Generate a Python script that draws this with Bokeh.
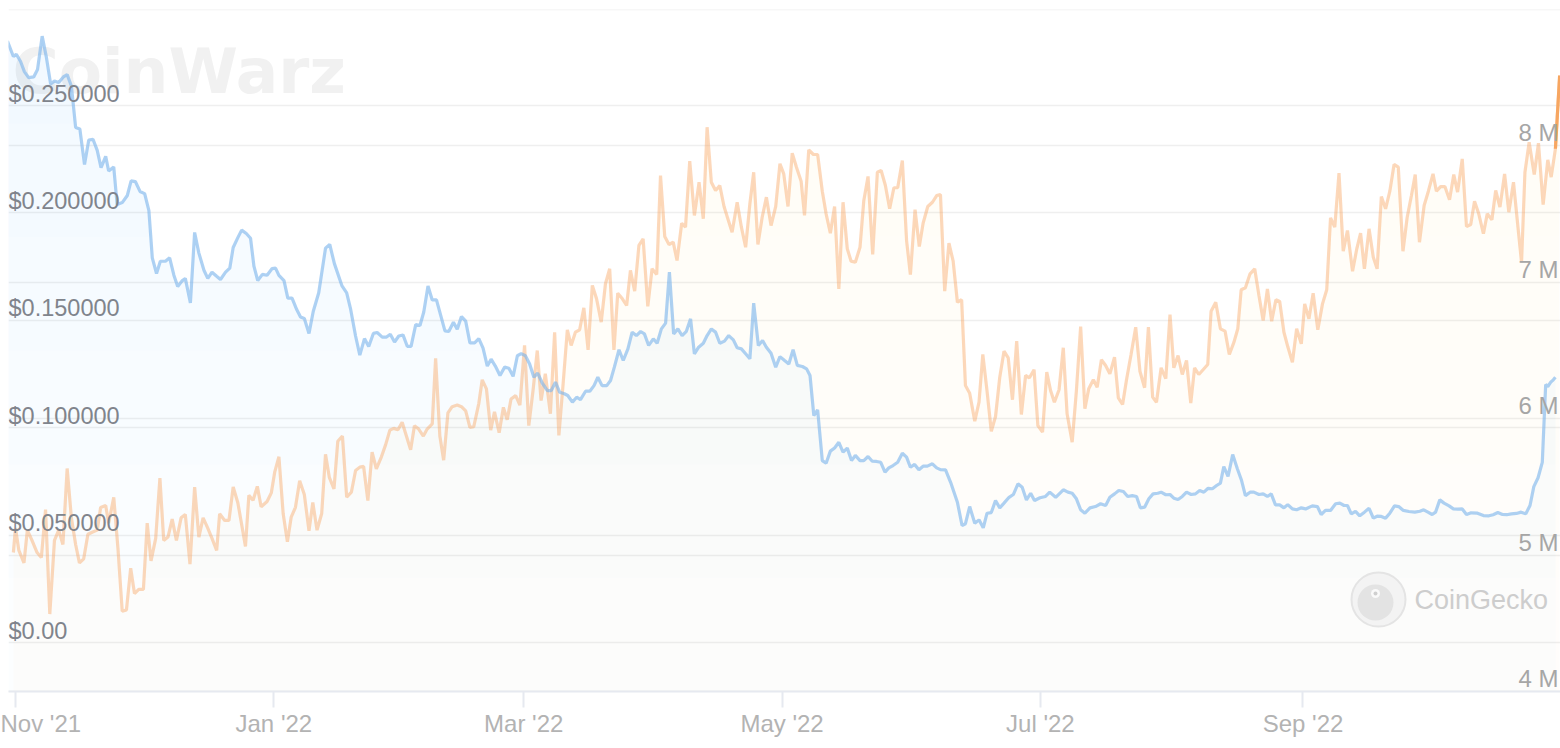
import numpy as np
import pandas as pd
from bokeh.plotting import figure
from bokeh.models import Range1d, FixedTicker, DatetimeTickFormatter
from bokeh.core.properties import value
from bokeh.embed import file_html
from bokeh.resources import INLINE

BASE = pd.Timestamp("2021-11-01")

# ---- price series (left axis, USD), x = days since 2021-11-01 ----
price_days = [
    -1.9, -0.5, 0.2, 1.2, 2.1, 3.1, 4.3, 5.2, 6.3, 7.3,
    8.3, 9.2, 10.2, 11.3, 12.2, 13.2, 14.2, 15.2, 16.3, 17.3,
    18.3, 19.3, 20.2, 21.3, 22.0, 23.2, 24.0, 25.2, 26.4, 27.3,
    28.3, 29.4, 30.5, 31.5, 32.3, 33.3, 34.2, 35.4, 36.4, 37.4,
    38.3, 39.4, 40.1, 41.3, 42.3, 43.3, 44.5, 45.4, 46.4, 47.5,
    48.4, 49.6, 50.6, 51.4, 52.5, 53.4, 54.5, 55.5, 56.3, 57.2,
    58.3, 59.4, 60.6, 61.4, 62.2, 63.4, 64.3, 65.3, 66.4, 67.3,
    68.2, 69.3, 70.3, 71.6, 73.2, 74.2, 75.3, 77.1, 78.2, 79.1,
    80.3, 81.3, 82.4, 83.4, 84.5, 85.4, 86.6, 87.6, 88.5, 89.5,
    90.5, 91.5, 92.5, 93.4, 94.5, 95.5, 96.4, 97.4, 98.4, 99.4,
    100.4, 101.4, 102.3, 103.4, 104.3, 105.3, 106.3, 107.3, 108.4, 109.4,
    110.4, 111.4, 112.3, 113.3, 114.4, 115.5, 116.5, 117.5, 118.5, 119.4,
    120.4, 121.4, 122.4, 123.3, 124.4, 125.6, 126.5, 127.5, 128.5, 129.6,
    130.4, 131.5, 132.5, 133.4, 134.6, 135.6, 136.6, 137.5, 138.5, 139.6,
    140.5, 141.4, 142.5, 143.5, 144.6, 145.6, 146.6, 147.6, 148.5, 149.5,
    150.6, 151.5, 152.5, 153.5, 154.4, 155.4, 156.4, 157.4, 158.4, 159.4,
    160.3, 161.3, 162.4, 163.3, 164.3, 165.3, 166.3, 167.4, 168.4, 169.5,
    170.4, 171.4, 172.4, 173.4, 174.3, 175.4, 176.4, 177.3, 178.4, 179.5,
    180.5, 181.6, 182.6, 183.6, 184.6, 185.8, 186.8, 187.6, 188.5, 189.4,
    190.5, 191.4, 192.4, 193.4, 194.4, 195.4, 196.4, 197.4, 198.3, 199.4,
    200.3, 201.3, 202.3, 203.3, 204.3, 205.3, 206.2, 207.2, 208.3, 209.4,
    210.4, 211.3, 212.3, 213.3, 214.3, 215.3, 216.5, 217.5, 218.4, 219.6,
    220.8, 222.4, 223.5, 224.3, 225.3, 226.5, 227.5, 228.5, 229.4, 230.4,
    231.4, 232.4, 233.4, 234.6, 235.6, 236.7, 237.7, 238.7, 239.7, 240.6,
    241.9, 243.2, 244.2, 245.6, 247.4, 248.5, 249.5, 250.5, 251.5, 252.5,
    253.7, 255.0, 256.2, 257.4, 258.4, 259.5, 260.5, 261.6, 262.6, 263.7,
    264.7, 265.6, 266.6, 267.6, 268.6, 269.7, 270.5, 271.6, 272.6, 273.5,
    274.5, 275.5, 276.5, 277.6, 278.6, 279.6, 280.6, 281.6, 282.6, 283.6,
    284.5, 285.3, 286.3, 287.4, 288.5, 289.5, 290.4, 291.5, 292.4, 293.6,
    294.6, 295.6, 296.5, 297.5, 298.5, 299.5, 300.4, 301.5, 302.5, 303.6,
    304.6, 306.2, 307.4, 308.3, 309.3, 310.5, 311.7, 312.7, 313.7, 314.5,
    315.4, 316.4, 317.4, 318.5, 319.6, 320.6, 321.5, 322.5, 323.5, 324.5,
    325.6, 326.6, 327.7, 329.0, 330.4, 331.6, 332.5, 333.5, 334.5, 335.3,
    336.3, 337.3, 338.5, 339.5, 340.6, 341.6, 342.6, 343.7, 345.2, 346.6,
    347.9, 348.9, 350.0, 351.1, 352.1, 353.2, 354.4, 355.5, 356.6, 357.6,
    358.5, 359.5, 360.5, 361.3, 361.8, 362.5, 363.1, 363.6,
]
price_usd = [
    .2800, .2728, .2739, .2705, .2658, .2630, .2633, .2668, .2823, .2724,
    .2600, .2614, .2607, .2633, .2644, .2591, .2398, .2391, .2225, .2339,
    .2343, .2291, .2211, .2263, .2195, .2214, .2039, .2048, .2081, .2149,
    .2146, .2100, .2090, .2011, .1791, .1718, .1775, .1775, .1791, .1710,
    .1657, .1685, .1695, .1581, .1909, .1813, .1733, .1695, .1724, .1705,
    .1690, .1724, .1743, .1839, .1885, .1920, .1904, .1882, .1752, .1685,
    .1714, .1710, .1741, .1743, .1709, .1685, .1603, .1603, .1550, .1515,
    .1508, .1439, .1541, .1628, .1836, .1853, .1764, .1660, .1628, .1555,
    .1427, .1338, .1415, .1378, .1439, .1443, .1422, .1422, .1435, .1399,
    .1427, .1432, .1379, .1379, .1480, .1476, .1539, .1660, .1595, .1595,
    .1523, .1451, .1448, .1491, .1459, .1518, .1496, .1395, .1395, .1415,
    .1371, .1287, .1319, .1287, .1243, .1282, .1277, .1239, .1335, .1345,
    .1335, .1297, .1235, .1254, .1207, .1173, .1173, .1212, .1165, .1158,
    .1150, .1119, .1142, .1131, .1170, .1170, .1196, .1235, .1196, .1196,
    .1220, .1282, .1363, .1313, .1367, .1445, .1429, .1448, .1437, .1383,
    .1414, .1393, .1460, .1487, .1724, .1437, .1460, .1429, .1449, .1507,
    .1344, .1375, .1393, .1429, .1460, .1445, .1393, .1403, .1429, .1409,
    .1372, .1367, .1344, .1321, .1580, .1383, .1406, .1375, .1347, .1282,
    .1331, .1313, .1297, .1363, .1290, .1285, .1274, .1243, .1057, .1083,
    .0847, .0835, .0891, .0906, .0932, .0886, .0905, .0847, .0871, .0847,
    .0847, .0866, .0844, .0843, .0839, .0793, .0813, .0824, .0839, .0881,
    .0863, .0816, .0829, .0804, .0821, .0821, .0832, .0813, .0805, .0804,
    .0746, .0653, .0545, .0553, .0633, .0555, .0571, .0534, .0602, .0605,
    .0661, .0627, .0649, .0676, .0689, .0739, .0723, .0664, .0695, .0661,
    .0674, .0680, .0700, .0676, .0711, .0700, .0695, .0669, .0618, .0602,
    .0627, .0633, .0646, .0638, .0676, .0692, .0708, .0703, .0680, .0684,
    .0680, .0627, .0630, .0669, .0692, .0695, .0700, .0688, .0689, .0672,
    .0666, .0680, .0700, .0689, .0692, .0708, .0700, .0718, .0716, .0731,
    .0742, .0819, .0773, .0875, .0809, .0754, .0684, .0700, .0700, .0689,
    .0692, .0680, .0692, .0641, .0641, .0627, .0642, .0622, .0618, .0627,
    .0622, .0636, .0633, .0596, .0615, .0615, .0646, .0649, .0638, .0638,
    .0599, .0611, .0590, .0607, .0625, .0579, .0588, .0587, .0579, .0602,
    .0636, .0633, .0615, .0610, .0607, .0611, .0618, .0607, .0596, .0607,
    .0664, .0649, .0636, .0622, .0621, .0622, .0596, .0604, .0602, .0591,
    .0590, .0595, .0605, .0596, .0595, .0599, .0601, .0607, .0599, .0638,
    .0726, .0767, .0839, .1201, .1192, .1212, .1223, .1235,
]

# ---- second series (right axis, millions), x = days since 2021-11-01 ----
hash_days = [
    -0.5, 0.0, 0.8, 2.0, 2.8, 3.9, 5.1, 6.1, 7.1, 8.1,
    9.2, 10.2, 11.2, 12.2, 13.2, 14.2, 15.1, 16.1, 17.1, 18.1,
    19.3, 20.1, 21.3, 22.0, 23.2, 24.2, 25.2, 26.2, 27.2, 28.1,
    29.1, 30.2, 31.1, 32.0, 33.1, 34.1, 35.0, 36.0, 37.0, 38.0,
    39.1, 40.1, 41.2, 42.3, 43.3, 44.3, 45.4, 46.4, 47.5, 48.2,
    49.4, 50.4, 51.4, 52.5, 53.3, 54.3, 55.1, 56.1, 57.1, 58.0,
    59.4, 60.4, 61.2, 62.2, 63.2, 64.2, 65.1, 66.1, 67.1, 68.2,
    69.3, 70.2, 71.2, 72.3, 73.2, 74.1, 75.2, 76.1, 77.2, 78.2,
    79.3, 80.3, 81.3, 82.2, 83.2, 84.2, 85.2, 86.4, 87.4, 88.4,
    89.3, 90.3, 91.3, 92.3, 93.3, 94.2, 95.2, 96.3, 97.2, 98.4,
    99.2, 100.2, 101.1, 102.1, 103.1, 104.3, 105.3, 106.3, 107.3, 108.2,
    109.4, 110.2, 111.2, 112.2, 113.1, 114.2, 115.2, 116.1, 117.0, 118.1,
    119.1, 120.2, 121.2, 122.2, 123.2, 124.1, 125.1, 126.3, 127.3, 128.3,
    129.3, 130.3, 131.2, 132.2, 133.2, 134.2, 135.2, 136.2, 137.2, 138.3,
    139.3, 140.3, 141.3, 142.2, 143.3, 144.3, 145.2, 146.2, 147.2, 148.2,
    149.3, 150.3, 151.4, 152.3, 153.3, 154.3, 155.3, 156.2, 157.3, 158.2,
    159.2, 160.3, 161.4, 162.4, 163.3, 164.3, 165.3, 166.3, 167.3, 168.2,
    169.2, 170.4, 171.4, 172.4, 173.4, 174.3, 175.3, 176.3, 177.3, 178.4,
    179.5, 180.5, 181.4, 182.4, 183.4, 184.4, 185.5, 186.3, 187.3, 188.4,
    189.4, 190.5, 191.4, 192.4, 193.4, 194.4, 195.4, 196.4, 197.3, 198.3,
    199.4, 200.3, 201.3, 202.4, 203.5, 204.4, 205.4, 206.4, 207.4, 208.3,
    209.4, 210.4, 211.3, 212.4, 213.4, 214.3, 215.4, 216.5, 217.5, 218.4,
    219.4, 220.4, 221.4, 222.4, 223.4, 224.3, 225.3, 226.5, 227.5, 228.4,
    229.4, 230.4, 231.4, 232.4, 233.4, 234.4, 235.4, 236.4, 237.5, 238.5,
    239.4, 240.5, 241.4, 242.5, 243.5, 244.4, 245.3, 246.4, 247.4, 248.3,
    249.5, 250.5, 251.5, 252.5, 253.4, 254.5, 255.4, 256.4, 257.4, 258.4,
    259.5, 260.4, 261.4, 262.3, 263.4, 264.5, 265.5, 266.6, 267.5, 268.5,
    269.4, 270.5, 271.6, 272.6, 273.5, 274.5, 275.5, 276.5, 277.5, 278.4,
    279.4, 280.4, 281.5, 282.3, 283.4, 284.5, 285.6, 286.6, 287.7, 288.6,
    289.4, 290.4, 291.5, 292.6, 293.6, 294.6, 295.6, 296.6, 297.6, 298.5,
    299.5, 300.4, 301.5, 302.5, 303.6, 304.4, 305.4, 306.4, 307.5, 308.6,
    309.6, 310.5, 311.5, 312.5, 313.5, 314.5, 315.7, 316.7, 317.6, 318.5,
    319.6, 320.6, 321.5, 322.5, 323.5, 324.5, 325.5, 326.5, 327.6, 328.6,
    329.6, 330.5, 331.5, 332.6, 333.6, 334.7, 335.5, 336.5, 337.5, 338.6,
    339.6, 340.5, 341.6, 342.6, 343.6, 344.5, 345.5, 346.6, 347.5, 348.6,
    349.5, 350.5, 351.6, 352.6, 353.7, 354.6, 355.6, 356.4, 357.4, 358.6,
    359.6, 360.7, 361.8, 362.6, 363.6, 364.6,
]
hash_m = [
    5.019, 5.198, 5.034, 4.943, 5.183, 5.108, 5.019, 4.982, 5.334, 4.568,
    5.108, 5.183, 5.078, 5.635, 5.273, 5.078, 4.943, 4.973, 5.153, 5.168,
    5.183, 5.349, 5.364, 5.234, 5.423, 5.048, 4.589, 4.598, 4.904, 4.718,
    4.748, 4.748, 5.234, 4.958, 5.123, 5.565, 5.108, 5.132, 5.264, 5.108,
    5.273, 5.298, 4.934, 5.499, 5.132, 5.273, 5.198, 5.123, 5.034, 5.303,
    5.254, 5.254, 5.499, 5.384, 5.243, 5.063, 5.438, 5.402, 5.504, 5.354,
    5.393, 5.456, 5.608, 5.721, 5.305, 5.097, 5.279, 5.350, 5.545, 5.444,
    5.178, 5.386, 5.183, 5.305, 5.739, 5.570, 5.486, 5.835, 5.873, 5.425,
    5.461, 5.620, 5.645, 5.650, 5.400, 5.754, 5.633, 5.721, 5.810, 5.916,
    5.929, 5.919, 5.974, 5.873, 5.772, 5.949, 5.924, 5.873, 5.924, 5.962,
    6.442, 5.873, 5.696, 6.043, 6.088, 6.100, 6.088, 6.058, 5.936, 5.941,
    6.113, 6.285, 6.219, 5.916, 6.050, 5.898, 6.083, 5.992, 6.144, 6.169,
    6.100, 6.538, 5.949, 6.207, 6.500, 6.133, 6.329, 6.036, 6.634, 5.877,
    6.256, 6.652, 6.537, 6.634, 6.652, 6.813, 6.505, 6.977, 6.879, 6.708,
    6.989, 7.099, 6.505, 6.920, 6.879, 6.830, 7.087, 6.935, 7.270, 7.319,
    6.823, 7.099, 7.057, 7.783, 7.336, 7.277, 7.294, 7.160, 7.433, 7.404,
    7.888, 7.490, 7.734, 7.466, 8.137, 7.734, 7.673, 7.710, 7.556, 7.466,
    7.367, 7.587, 7.404, 7.257, 7.576, 7.807, 7.277, 7.477, 7.624, 7.416,
    7.556, 7.869, 7.795, 7.556, 7.947, 7.844, 7.741, 7.490, 7.971, 7.937,
    7.937, 7.668, 7.502, 7.360, 7.556, 6.952, 7.587, 7.246, 7.155, 7.147,
    7.257, 7.600, 7.776, 7.204, 7.807, 7.820, 7.710, 7.539, 7.693, 7.693,
    7.893, 7.306, 7.057, 7.532, 7.262, 7.433, 7.556, 7.587, 7.636, 7.644,
    6.935, 7.287, 7.155, 6.854, 6.872, 6.243, 6.187, 5.982, 6.121, 6.471,
    6.202, 5.908, 6.016, 6.304, 6.495, 6.446, 6.139, 6.568, 6.031, 6.317,
    6.300, 6.359, 5.950, 5.901, 6.341, 6.207, 6.121, 6.212, 6.520, 6.036,
    5.828, 6.207, 6.676, 6.073, 6.219, 6.285, 6.231, 6.432, 6.390, 6.329,
    6.451, 6.153, 6.104, 6.280, 6.471, 6.671, 6.348, 6.227, 6.671, 6.158,
    6.121, 6.373, 6.293, 6.764, 6.373, 6.463, 6.324, 6.427, 6.114, 6.373,
    6.324, 6.359, 6.397, 6.788, 6.854, 6.659, 6.642, 6.471, 6.561, 6.659,
    6.945, 6.960, 7.062, 7.099, 6.903, 6.720, 6.952, 6.715, 6.872, 6.859,
    6.634, 6.529, 6.414, 6.659, 6.549, 6.842, 6.732, 6.920, 6.652, 6.842,
    6.945, 7.473, 7.404, 7.800, 7.228, 7.380, 7.081, 7.246, 7.360, 7.099,
    7.392, 7.184, 7.099, 7.629, 7.539, 7.668, 7.864, 7.844, 7.228, 7.477,
    7.636, 7.790, 7.294, 7.563, 7.668, 7.795, 7.668, 7.702, 7.702, 7.605,
    7.790, 7.661, 7.905, 7.409, 7.424, 7.595, 7.502, 7.356, 7.502, 7.458,
    7.673, 7.551, 7.795, 7.514, 7.734, 7.453, 7.147, 7.807, 8.027, 7.790,
    8.020, 7.570, 7.898, 7.771, 7.979, 8.516,
]

# ---- ticks / labels ----
x_tick_dates = ["2021-11-01", "2022-01-01", "2022-03-01", "2022-05-01", "2022-07-01", "2022-09-01"]
x_tick_labels = ["Nov '21", "Jan '22", "Mar '22", "May '22", "Jul '22", "Sep '22"]
price_ticks = [0.0, 0.05, 0.10, 0.15, 0.20, 0.25]
price_labels = ["$0.00", "$0.050000", "$0.100000", "$0.150000", "$0.200000", "$0.250000"]
hash_ticks = [4, 5, 6, 7, 8, 9]
hash_labels = ["4 M", "5 M", "6 M", "7 M", "8 M"]

BLUE = "#7cb5ec"
ORANGE = "#f7a35c"


def to_dt(days):
    return BASE + pd.to_timedelta(np.asarray(days, dtype=float), unit="D")


px = to_dt(price_days)
py = np.asarray(price_usd)
hx = to_dt(hash_days)
hy = np.asarray(hash_m)

FW, FH = 1552, 682
x0 = BASE - pd.Timedelta(days=1.65)
x1 = BASE + pd.Timedelta(days=364.8)
P_LO, P_HI = -0.0228, 0.2947
H_LO, H_HI = 4.0, 9.0

p = figure(frame_width=FW, frame_height=FH, x_axis_type="datetime",
           x_range=Range1d(x0, x1), y_range=Range1d(P_LO, P_HI),
           output_backend="svg", toolbar_location=None, y_axis_location=None,
           min_border_left=8, min_border_right=0, min_border_top=9, min_border_bottom=0,
           background_fill_color="white", border_fill_color="white",
           outline_line_color=None)
p.extra_y_ranges = {"hash": Range1d(H_LO, H_HI)}
p.xgrid.visible = False
p.ygrid.visible = False

# grid lines for both scales
p.hspan(y=price_ticks, line_color="#efefef", line_width=1.5)
p.hspan(y=hash_ticks, line_color="#efefef", line_width=1.5, y_range_name="hash")

# watermark
p.text(x=[x0], y=[H_HI], text=["CoinWarz"], y_range_name="hash",
       x_offset=4, y_offset=62, text_baseline="alphabetic", text_align="left",
       text_font=value("DejaVu Sans"), text_font_style="bold",
       text_font_size="63px", text_color="#f1f1f1")


def gradient_area(xs, ys, lo, hi, color, a_top, a_bot, n=6, rng="default"):
    levels = np.linspace(lo, hi, n + 1)[:-1]
    targets = np.linspace(a_bot, a_top, n)
    prev = 0.0
    for lev, t in zip(levels, targets):
        a = 1 - (1 - t) / (1 - prev)
        prev = t
        p.varea(x=xs, y1=np.full(len(ys), lev), y2=np.maximum(ys, lev),
                fill_color=color, fill_alpha=a, y_range_name=rng)


gradient_area(hx, hy, H_LO, H_HI, ORANGE, 0.05, 0.024, rng="hash")
gradient_area(px, py, P_LO, P_HI, "#6cb8f5", 0.10, 0.02)

p.line(hx, hy, line_color=ORANGE, line_alpha=0.42, line_width=3.2, y_range_name="hash")
p.line(hx[-2:], hy[-2:], line_color=ORANGE, line_alpha=0.95, line_width=3.2, y_range_name="hash")
p.line(px, py, line_color=BLUE, line_alpha=0.62, line_width=3.2)

# y labels drawn inside the plot area
p.text(x=[x0] * len(price_ticks), y=price_ticks, text=price_labels,
       x_offset=0, y_offset=-12, text_baseline="middle", text_align="left",
       text_font=value("Liberation Sans"), text_font_size="23.5px", text_color="#80848c")
p.text(x=[x1] * len(hash_labels), y=hash_ticks[:len(hash_labels)], text=hash_labels,
       y_range_name="hash", x_offset=-2, y_offset=-13, text_baseline="middle",
       text_align="right", text_font=value("Liberation Sans"), text_font_size="24px",
       text_color="#a6a6a6")

# CoinGecko badge (bottom right)
dx = (x1 - x0) / FW
dy = (H_HI - H_LO) / FH
cx = x1 - 182 * dx
cy = H_LO + 92 * dy
p.scatter(x=[cx], y=[cy], size=54, marker="circle", fill_color="#f3f3f3",
          line_color="#e4e4e4", line_width=2, y_range_name="hash")
p.scatter(x=[cx - 3 * dx], y=[cy - 3 * dy], size=36, marker="circle", fill_color="#e3e3e3",
          line_color=None, y_range_name="hash")
p.scatter(x=[cx - 3 * dx], y=[cy + 6 * dy], size=9, marker="circle", fill_color="#fafafa",
          line_color=None, y_range_name="hash")
p.scatter(x=[cx - 3 * dx], y=[cy + 6 * dy], size=4, marker="circle", fill_color="#cfcfcf",
          line_color=None, y_range_name="hash")
p.text(x=[x1], y=[H_LO], text=["CoinGecko"], y_range_name="hash",
       x_offset=-146, y_offset=-92, text_baseline="middle", text_align="left",
       text_font=value("Liberation Sans"), text_font_size="27px", text_color="#cdcdcd")

# x axis
tick_ms = [float(pd.Timestamp(d).value // 10**6) for d in x_tick_dates]
ax = p.xaxis[0]
ax.ticker = FixedTicker(ticks=tick_ms)
fmt = "%b '%y"
ax.formatter = DatetimeTickFormatter(days=fmt, months=fmt, years=fmt, hours=fmt,
                                     hourmin=fmt, minutes=fmt, minsec=fmt, seconds=fmt,
                                     milliseconds=fmt, microseconds=fmt)
ax.major_label_overrides = {ms: lbl for ms, lbl in zip(tick_ms, x_tick_labels)}
ax.axis_line_color = "#e6e9f0"
ax.axis_line_width = 2
ax.major_tick_line_color = "#e6e9f0"
ax.major_tick_line_width = 2
ax.major_tick_out = 16
ax.major_tick_in = 0
ax.minor_tick_line_color = None
ax.major_label_standoff = 2
ax.major_label_text_color = "#b3b3b3"
ax.major_label_text_font = "Liberation Sans"
ax.major_label_text_font_size = "24px"

open("out.html", "w").write(file_html(p, INLINE))
